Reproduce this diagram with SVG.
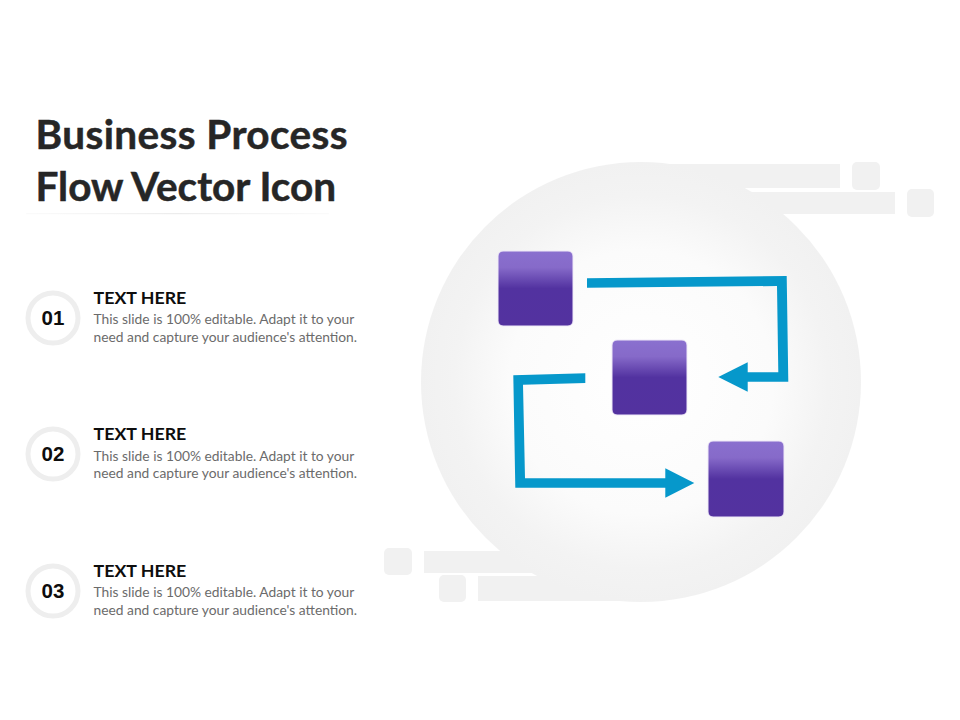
<svg xmlns="http://www.w3.org/2000/svg" width="960" height="720" viewBox="0 0 960 720">
<style>
.title{font:700 40.500px Lato,"Liberation Sans",sans-serif;fill:#262626;stroke:#262626;stroke-width:.5}
.head{font:700 17.800px Lato,"Liberation Sans",sans-serif;fill:#0d0d0d}
.body{font:400 13.800px Lato,"Liberation Sans",sans-serif;fill:#6b6b6b}
.num{font:700 20.500px "Liberation Sans",Arial,sans-serif;fill:#0d0d0d;text-anchor:middle}
.deco{fill:#f1f1f1}
.ring{fill:#fff;stroke:#eeeeee;stroke-width:5}
.box{fill:url(#boxG);stroke:#efe9f8;stroke-width:1}
.arrow{fill:#0698cb}
</style>
<defs>
<radialGradient id="bg" cx="50%" cy="50%" r="50%">
<stop offset="0" stop-color="#ffffff"/>
<stop offset=".6" stop-color="#fbfbfb"/>
<stop offset=".85" stop-color="#f3f3f3"/>
<stop offset="1" stop-color="#f1f1f1"/>
</radialGradient>
<linearGradient id="boxG" x1="0" y1="0" x2="0" y2="1">
<stop offset="0" stop-color="#8a70cf"/>
<stop offset=".22" stop-color="#866ac9"/>
<stop offset=".5" stop-color="#5232a0"/>
<stop offset="1" stop-color="#53329f"/>
</linearGradient>
<linearGradient id="rule" x1="0" y1="0" x2="1" y2="0">
<stop offset="0" stop-color="#f0f0f0" stop-opacity=".3"/>
<stop offset=".5" stop-color="#ececec"/>
<stop offset="1" stop-color="#f0f0f0" stop-opacity=".3"/>
</linearGradient>
</defs>
<rect width="960" height="720" fill="#fff"/>
<g id="background">
<rect class="deco" x="640" y="164" width="200" height="24"/>
<rect class="deco" x="640" y="192" width="255" height="22"/>
<rect class="deco" x="852" y="162" width="28" height="28" rx="5"/>
<rect class="deco" x="907" y="189" width="27" height="28" rx="5"/>
<rect class="deco" x="424" y="551" width="220" height="22"/>
<rect class="deco" x="478" y="576" width="170" height="25"/>
<rect class="deco" x="384" y="548" width="28" height="27" rx="5"/>
<rect class="deco" x="439" y="575" width="27" height="27" rx="5"/>
<circle cx="641" cy="382" r="220" fill="url(#bg)"/>
</g>
<g id="title">
<text class="title" x="35.500" y="148.500" letter-spacing=".4">Business Process</text>
<text class="title" x="35.500" y="200.500">Flow Vector Icon</text>
<rect x="26" y="213" width="303" height="1.2" fill="url(#rule)"/>
</g>
<g id="item-01">
<circle class="ring" cx="53" cy="318" r="25"/>
<text class="num" x="53" y="325">01</text>
<text class="head" x="93.500" y="303.500">TEXT HERE</text>
<text class="body" x="93.500" y="324">This slide is 100% editable. Adapt it to your</text>
<text class="body" x="93.500" y="341.500">need and capture your audience's attention.</text>
</g>
<g id="item-02">
<circle class="ring" cx="53" cy="454" r="25"/>
<text class="num" x="53" y="461">02</text>
<text class="head" x="93.500" y="440">TEXT HERE</text>
<text class="body" x="93.500" y="460.500">This slide is 100% editable. Adapt it to your</text>
<text class="body" x="93.500" y="478">need and capture your audience's attention.</text>
</g>
<g id="item-03">
<circle class="ring" cx="53" cy="591" r="25"/>
<text class="num" x="53" y="598">03</text>
<text class="head" x="93.500" y="577">TEXT HERE</text>
<text class="body" x="93.500" y="597">This slide is 100% editable. Adapt it to your</text>
<text class="body" x="93.500" y="614.500">need and capture your audience's attention.</text>
</g>
<g id="connectors">
<polygon class="arrow" points="587,278.300 786.700,276 788.300,381.700 747.700,381.700 747.700,391.700 718.300,377 747.700,362.300 747.700,372.300 778.300,372.300 777,286 587,287.700"/>
<polygon class="arrow" points="585.300,373.300 513.300,375.300 515.300,487.700 665.300,487.700 665.300,497.700 694.300,483 665.300,468.300 665.300,478.300 525,478.300 523,384.700 585.300,383"/>
</g>
<g id="node-1"><rect class="box" x="498" y="251" width="75" height="75" rx="5"/></g>
<g id="node-2"><rect class="box" x="612" y="340" width="75" height="75" rx="5"/></g>
<g id="node-3"><rect class="box" x="708" y="441" width="76" height="76" rx="5"/></g>
</svg>
